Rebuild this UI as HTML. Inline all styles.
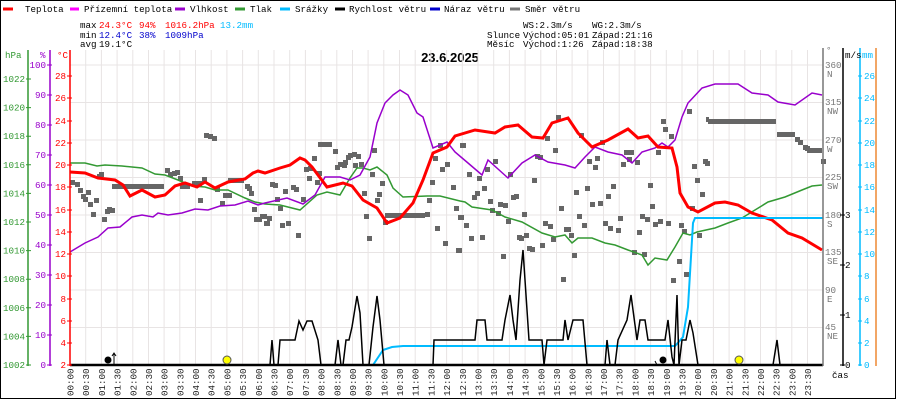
<!DOCTYPE html>
<html><head><meta charset="utf-8"><style>
html,body{margin:0;padding:0;background:#fff}
svg{display:block}
text{font-family:"Liberation Mono","DejaVu Sans Mono",monospace;font-size:9.2px}
</style></head><body>
<svg width="900" height="400" viewBox="0 0 900 400" xmlns="http://www.w3.org/2000/svg">
<rect x="0.5" y="0.5" width="895" height="398" fill="#fff" stroke="#000"/>
<!-- legend -->
<g stroke-width="3">
<line x1="3" y1="9" x2="13" y2="9" stroke="#f00"/><line x1="70" y1="9" x2="79" y2="9" stroke="#f0f"/>
<line x1="175" y1="9" x2="185" y2="9" stroke="#90c"/><line x1="235" y1="9" x2="245" y2="9" stroke="#393"/>
<line x1="280" y1="9" x2="290" y2="9" stroke="#0bf"/><line x1="335" y1="9" x2="345" y2="9" stroke="#000"/>
<line x1="430" y1="9" x2="440" y2="9" stroke="#00c"/><line x1="510" y1="9" x2="520" y2="9" stroke="#777"/>
</g>
<g fill="#000">
<text x="25" y="12">Teplota</text><text x="84" y="12">Přízemní teplota</text><text x="190" y="12">Vlhkost</text>
<text x="250" y="12">Tlak</text><text x="295" y="12">Srážky</text><text x="349" y="12">Rychlost větru</text>
<text x="444" y="12">Náraz větru</text><text x="525" y="12">Směr větru</text>
<text x="80" y="28">max</text><text x="80" y="38">min</text><text x="80" y="47">avg</text>
<text x="99" y="47">19.1°C</text>
<text x="523" y="28">WS:2.3m/s</text><text x="592" y="28">WG:2.3m/s</text>
<text x="487" y="38">Slunce</text><text x="523" y="38">Východ:05:01</text><text x="592" y="38">Západ:21:16</text>
<text x="487" y="47">Měsíc</text><text x="523" y="47">Východ:1:26</text><text x="592" y="47">Západ:18:38</text>
</g>
<text x="99" y="28" fill="#f00">24.3°C</text><text x="139" y="28" fill="#f00">94%</text><text x="165" y="28" fill="#f00">1016.2hPa</text><text x="220" y="28" fill="#0bf">13.2mm</text>
<text x="99" y="38" fill="#00c">12.4°C</text><text x="139" y="38" fill="#00c">38%</text><text x="165" y="38" fill="#00c">1009hPa</text>
<text x="450" y="62" text-anchor="middle" style="font-family:'Liberation Sans',sans-serif;font-size:13px;font-weight:bold">23.6.2025</text>
<g stroke="#e8e4e4">
<line x1="70" y1="65" x2="823" y2="65"/><line x1="70" y1="102.5" x2="823" y2="102.5"/><line x1="70" y1="140" x2="823" y2="140"/>
<line x1="70" y1="177.5" x2="823" y2="177.5"/><line x1="70" y1="215" x2="823" y2="215"/><line x1="70" y1="252.5" x2="823" y2="252.5"/>
<line x1="70" y1="290" x2="823" y2="290"/><line x1="70" y1="327.5" x2="823" y2="327.5"/>
</g>
<g stroke="#e8e4e4">
<line x1="85.7" y1="50" x2="85.7" y2="365"/><line x1="101.4" y1="50" x2="101.4" y2="365"/><line x1="117.1" y1="50" x2="117.1" y2="365"/><line x1="132.8" y1="50" x2="132.8" y2="365"/><line x1="148.5" y1="50" x2="148.5" y2="365"/><line x1="164.1" y1="50" x2="164.1" y2="365"/><line x1="179.8" y1="50" x2="179.8" y2="365"/><line x1="195.5" y1="50" x2="195.5" y2="365"/><line x1="211.2" y1="50" x2="211.2" y2="365"/><line x1="226.9" y1="50" x2="226.9" y2="365"/><line x1="242.6" y1="50" x2="242.6" y2="365"/><line x1="258.3" y1="50" x2="258.3" y2="365"/><line x1="274" y1="50" x2="274" y2="365"/><line x1="289.7" y1="50" x2="289.7" y2="365"/><line x1="305.4" y1="50" x2="305.4" y2="365"/><line x1="321.1" y1="50" x2="321.1" y2="365"/><line x1="336.8" y1="50" x2="336.8" y2="365"/><line x1="352.5" y1="50" x2="352.5" y2="365"/><line x1="368.1" y1="50" x2="368.1" y2="365"/><line x1="383.8" y1="50" x2="383.8" y2="365"/><line x1="399.5" y1="50" x2="399.5" y2="365"/><line x1="415.2" y1="50" x2="415.2" y2="365"/><line x1="430.9" y1="50" x2="430.9" y2="365"/><line x1="446.6" y1="50" x2="446.6" y2="365"/><line x1="462.3" y1="50" x2="462.3" y2="365"/><line x1="478" y1="50" x2="478" y2="365"/><line x1="493.7" y1="50" x2="493.7" y2="365"/><line x1="509.4" y1="50" x2="509.4" y2="365"/><line x1="525.1" y1="50" x2="525.1" y2="365"/><line x1="540.8" y1="50" x2="540.8" y2="365"/><line x1="556.5" y1="50" x2="556.5" y2="365"/><line x1="572.1" y1="50" x2="572.1" y2="365"/><line x1="587.8" y1="50" x2="587.8" y2="365"/><line x1="603.5" y1="50" x2="603.5" y2="365"/><line x1="619.2" y1="50" x2="619.2" y2="365"/><line x1="634.9" y1="50" x2="634.9" y2="365"/><line x1="650.6" y1="50" x2="650.6" y2="365"/><line x1="666.3" y1="50" x2="666.3" y2="365"/><line x1="682" y1="50" x2="682" y2="365"/><line x1="697.7" y1="50" x2="697.7" y2="365"/><line x1="713.4" y1="50" x2="713.4" y2="365"/><line x1="729.1" y1="50" x2="729.1" y2="365"/><line x1="744.8" y1="50" x2="744.8" y2="365"/><line x1="760.5" y1="50" x2="760.5" y2="365"/><line x1="776.1" y1="50" x2="776.1" y2="365"/><line x1="791.8" y1="50" x2="791.8" y2="365"/><line x1="807.5" y1="50" x2="807.5" y2="365"/>
</g>
<g fill="#666">
<path d="M70,180h5v5h-5zM75,182h5v5h-5zM78,188h5v5h-5zM81,194h5v5h-5zM83,197h5v5h-5zM86,190h5v5h-5zM88,202h5v5h-5zM91,212h5v5h-5zM94,198h5v5h-5zM97,174h5v5h-5zM99,172h5v5h-5zM102,217h5v5h-5zM105,209h5v5h-5zM107,207h5v5h-5zM110,208h5v5h-5zM165,168h5v5h-5zM168,172h5v5h-5zM172,171h5v5h-5zM175,170h5v5h-5zM178,176h5v5h-5zM192,181h5v5h-5zM197,181h5v5h-5zM198,198h5v5h-5zM202,177h5v5h-5zM204,133h5v5h-5zM208,134h5v5h-5zM212,136h5v5h-5zM215,187h5v5h-5zM220,201h5v5h-5zM223,193h5v5h-5zM227,193h5v5h-5zM245,184h5v5h-5zM247,186h5v5h-5zM249,191h5v5h-5zM252,207h5v5h-5zM254,217h5v5h-5zM257,217h5v5h-5zM262,214h5v5h-5zM264,221h5v5h-5z"/>
<rect x="112" y="184" width="52" height="5"/><rect x="180" y="184" width="10" height="5"/><rect x="228" y="178" width="16" height="5"/>
<path d="M260,214h5v5h-5zM267,216h5v5h-5zM265,221h5v5h-5zM270,182h5v5h-5zM273,183h5v5h-5zM275,197h5v5h-5zM278,206h5v5h-5zM280,223h5v5h-5zM283,189h5v5h-5zM286,221h5v5h-5zM291,185h5v5h-5zM294,187h5v5h-5zM296,233h5v5h-5zM301,197h5v5h-5zM304,167h5v5h-5zM307,176h5v5h-5zM308,166h5v5h-5zM312,156h5v5h-5zM315,180h5v5h-5zM317,171h5v5h-5zM333,149h5v5h-5zM335,165h5v5h-5zM338,162h5v5h-5zM342,163h5v5h-5zM343,160h5v5h-5zM346,155h5v5h-5zM348,153h5v5h-5zM352,152h5v5h-5zM353,163h5v5h-5zM356,154h5v5h-5zM359,162h5v5h-5zM362,191h5v5h-5zM364,214h5v5h-5zM367,236h5v5h-5zM370,172h5v5h-5zM372,148h5v5h-5zM375,198h5v5h-5zM377,192h5v5h-5zM380,181h5v5h-5zM383,220h5v5h-5zM425,212h5v5h-5zM427,198h5v5h-5zM430,180h5v5h-5zM433,156h5v5h-5zM435,226h5v5h-5zM438,143h5v5h-5zM440,167h5v5h-5zM443,241h5v5h-5zM445,162h5v5h-5zM451,185h5v5h-5zM454,206h5v5h-5zM456,248h5v5h-5zM458,215h5v5h-5zM460,143h5v5h-5z"/>
<rect x="318" y="142" width="14" height="5"/><rect x="385" y="213" width="40" height="5"/>
<path d="M461,143h5v5h-5zM457,248h5v5h-5zM459,215h5v5h-5zM464,223h5v5h-5zM467,172h5v5h-5zM469,236h5v5h-5zM472,195h5v5h-5zM475,191h5v5h-5zM477,176h5v5h-5zM480,235h5v5h-5zM482,186h5v5h-5zM485,167h5v5h-5zM488,199h5v5h-5zM490,208h5v5h-5zM493,159h5v5h-5zM496,211h5v5h-5zM498,202h5v5h-5zM501,254h5v5h-5zM503,203h5v5h-5zM506,219h5v5h-5zM508,172h5v5h-5zM511,195h5v5h-5zM514,194h5v5h-5zM517,235h5v5h-5zM519,236h5v5h-5zM522,212h5v5h-5zM524,233h5v5h-5zM527,246h5v5h-5zM530,247h5v5h-5zM532,178h5v5h-5zM535,154h5v5h-5zM538,155h5v5h-5zM540,243h5v5h-5zM543,221h5v5h-5zM545,136h5v5h-5zM548,224h5v5h-5zM551,237h5v5h-5zM553,148h5v5h-5zM556,115h5v5h-5zM559,206h5v5h-5zM561,277h5v5h-5zM564,227h5v5h-5zM566,227h5v5h-5zM569,233h5v5h-5zM572,253h5v5h-5zM574,190h5v5h-5zM577,214h5v5h-5zM579,133h5v5h-5zM582,223h5v5h-5zM585,186h5v5h-5zM587,159h5v5h-5zM590,202h5v5h-5zM593,165h5v5h-5zM595,156h5v5h-5zM598,201h5v5h-5zM600,140h5v5h-5zM603,221h5v5h-5zM606,194h5v5h-5zM608,226h5v5h-5zM611,184h5v5h-5zM616,228h5v5h-5zM618,216h5v5h-5zM621,162h5v5h-5zM624,150h5v5h-5zM627,157h5v5h-5zM629,150h5v5h-5zM632,250h5v5h-5zM635,160h5v5h-5zM637,230h5v5h-5zM640,214h5v5h-5zM642,252h5v5h-5zM645,217h5v5h-5zM648,183h5v5h-5zM650,204h5v5h-5zM653,222h5v5h-5z"/>
<path d="M661,119h5v5h-5zM663,127h5v5h-5zM669,134h5v5h-5zM656,150h5v5h-5zM658,219h5v5h-5zM666,221h5v5h-5zM671,278h5v5h-5zM677,259h5v5h-5zM679,223h5v5h-5zM682,229h5v5h-5zM684,272h5v5h-5zM687,109h5v5h-5zM690,206h5v5h-5zM692,164h5v5h-5zM695,178h5v5h-5zM697,233h5v5h-5zM700,192h5v5h-5zM703,159h5v5h-5zM705,161h5v5h-5zM795,137h5v5h-5zM798,140h5v5h-5zM803,145h5v5h-5zM805,146h5v5h-5zM821,159h5v5h-5z"/>
<rect x="706" y="117" width="3" height="5"/><rect x="708" y="119" width="68" height="5"/><rect x="777" y="132" width="18" height="5"/><rect x="807" y="148" width="15" height="5"/>
</g>
<polyline fill="none" stroke="#393" stroke-width="1.5" points="70,163 85,163 97,166 105,165 122,166 142,168 155,174 165,175 178,180 192,186 205,187 215,190 228,190 245,198 255,202 265,204 280,205 300,210 317,195 327,192 340,195 350,178 357,168 363,168 370,170 377,167 387,175 393,188 403,197 427,196 440,196 460,201 465,202 472,207 492,210 505,217 522,222 542,233 555,237 565,235 572,243 578,238 592,238 605,243 615,245 628,250 642,255 648,265 655,258 667,260 675,247 683,233 690,235 697,232 715,228 728,223 742,218 755,210 768,202 785,197 802,190 812,186 822,185"/>
<polyline fill="none" stroke="#90c" stroke-width="1.5" points="70,252 85,243 98,237 108,228 120,227 132,217 142,215 153,217 158,213 168,215 182,213 195,209 208,210 220,206 235,205 248,201 258,205 265,203 287,198 303,204 315,195 325,177 340,177 350,180 360,175 370,157 377,123 385,103 393,95 400,90 408,95 417,113 423,117 433,148 447,142 455,152 468,163 482,175 488,160 508,178 522,163 535,155 548,162 565,165 575,168 585,157 595,147 608,152 622,155 632,163 642,152 655,148 662,143 668,147 675,140 682,117 688,103 702,88 715,84 738,84 752,93 768,95 778,102 795,105 812,93 822,95"/>
<polyline fill="none" stroke="#f00" stroke-width="3" points="70,172 85,173 98,178 115,180 123,185 130,196 142,190 155,197 165,195 175,186 185,183 197,187 205,182 215,188 228,182 245,179 253,173 258,171 265,173 280,168 290,165 300,158 305,160 312,167 327,187 343,183 352,186 363,200 377,208 387,223 400,218 413,203 423,180 433,153 447,147 455,136 475,130 495,133 505,127 518,125 532,137 543,138 552,123 568,118 578,133 592,147 608,140 628,129 638,138 648,136 658,147 672,148 677,167 680,193 688,207 698,212 715,203 725,202 738,205 752,213 772,220 788,233 802,238 822,250"/>
<polyline fill="none" stroke="#0bf" stroke-width="2" points="274,365 373,365 383,350 392,347 403,346 675,346 683,337 688,307 693,223 695,218 823,218"/>
<polyline fill="none" stroke="#000" stroke-width="1.5" points="70,365 270,365 272,340 274,365 278,365 280,340 295,340 299,321 303,330 307,321 312,321 318,340 321,365 335,365 338,340 341,365 343,365 346,340 349,340 352,327 357,296 360,313 363,365 369,365 373,327 377,296 380,320 384,365 433,365 434,340 475,340 477,320 485,320 487,340 502,340 505,320 510,295 513,320 516,340 520,280 523,250 525,280 529,340 542,340 544,365 547,340 563,340 565,320 568,340 573,320 583,320 587,365 605,365 607,340 610,365 615,365 618,340 627,320 631,295 637,340 640,320 645,320 648,340 665,340 668,320 672,357 674,365 677,295 679,365 682,340 686,340 690,320 693,333 698,365 773,365 777,340 780,365 823,365"/>
<line x1="70" y1="365" x2="823" y2="365" stroke="#000" stroke-width="2.5"/>
<circle cx="108" cy="360" r="3.5" fill="#000"/><path d="M114,365V353M112,356l2,-3 2,3" stroke="#000" fill="none"/>
<circle cx="227" cy="360" r="4" fill="#ff0" stroke="#555"/>
<circle cx="663" cy="360" r="3.5" fill="#000"/><path d="M657,365l-2,-4" stroke="#000"/>
<circle cx="739" cy="360" r="4" fill="#ff0" stroke="#555"/>
<g stroke-width="1.5"><line x1="28" y1="50" x2="28" y2="366" stroke="#393"/><line x1="50" y1="50" x2="50" y2="366" stroke="#90c"/><line x1="70" y1="50" x2="70" y2="366" stroke="#f00"/></g>
<text x="5" y="58" fill="#393">hPa</text><text x="40" y="58" fill="#90c">%</text><text x="57" y="58" fill="#f00">°C</text>
<g fill="#393" text-anchor="end">
<text x="25" y="368">1002</text><text x="25" y="339.4">1004</text><text x="25" y="310.8">1006</text><text x="25" y="282.2">1008</text><text x="25" y="253.6">1010</text><text x="25" y="225">1012</text><text x="25" y="196.4">1014</text><text x="25" y="167.8">1016</text><text x="25" y="139.2">1018</text><text x="25" y="110.6">1020</text><text x="25" y="82">1022</text>
</g>
<g stroke="#393"><path d="M26,365h5M26,336.4h5M26,307.8h5M26,279.2h5M26,250.6h5M26,222h5M26,193.4h5M26,164.8h5M26,136.2h5M26,107.6h5M26,79h5"/></g>
<g fill="#90c" text-anchor="end">
<text x="46" y="368">0</text><text x="46" y="338">10</text><text x="46" y="308">20</text><text x="46" y="278">30</text><text x="46" y="248">40</text><text x="46" y="218">50</text><text x="46" y="188">60</text><text x="46" y="158">70</text><text x="46" y="128">80</text><text x="46" y="98">90</text><text x="46" y="68">100</text>
</g>
<g stroke="#90c"><path d="M47,365h5M47,335h5M47,305h5M47,275h5M47,245h5M47,215h5M47,185h5M47,155h5M47,125h5M47,95h5M47,65h5"/></g>
<g fill="#f00" text-anchor="end">
<text x="66" y="368">2</text><text x="66" y="346">4</text><text x="66" y="324">6</text><text x="66" y="302">8</text><text x="66" y="279">10</text><text x="66" y="257">12</text><text x="66" y="235">14</text><text x="66" y="213">16</text><text x="66" y="190">18</text><text x="66" y="168">20</text><text x="66" y="146">22</text><text x="66" y="124">24</text><text x="66" y="101">26</text><text x="66" y="79">28</text>
</g>
<g stroke="#f00"><path d="M67,365h5M67,343h5M67,321h5M67,299h5M67,276h5M67,254h5M67,232h5M67,210h5M67,187h5M67,165h5M67,143h5M67,121h5M67,98h5M67,76h5"/></g>
<line x1="823" y1="48" x2="823" y2="366" stroke="#777" stroke-width="1.5"/>
<line x1="843" y1="48" x2="843" y2="366" stroke="#000" stroke-width="1.5"/>
<line x1="860" y1="48" x2="860" y2="366" stroke="#0bf" stroke-width="1.5"/>
<line x1="876" y1="48" x2="876" y2="366" stroke="#e83" stroke-width="1.5"/>
<text x="826" y="53" fill="#777">°</text><text x="845" y="58" fill="#000">m/s</text><text x="862" y="58" fill="#0bf">mm</text>
<g fill="#777">
<text x="825" y="68">360</text><text x="827" y="77">N</text><text x="825" y="105">315</text><text x="827" y="114">NW</text>
<text x="825" y="143">270</text><text x="827" y="152">W</text><text x="825" y="180">225</text><text x="827" y="189">SW</text>
<text x="825" y="218">180</text><text x="827" y="227">S</text><text x="825" y="255">135</text><text x="827" y="264">SE</text>
<text x="825" y="293">90</text><text x="827" y="302">E</text><text x="825" y="330">45</text><text x="827" y="339">NE</text>
</g>
<g fill="#000"><text x="845" y="218">3</text><text x="845" y="268">2</text><text x="845" y="318">1</text><text x="845" y="368">0</text></g>
<g stroke="#000"><path d="M840,215h5M840,265h5M840,315h5M840,365h5"/></g>
<g fill="#0bf">
<text x="864" y="368">0</text><text x="864" y="346">2</text><text x="864" y="324">4</text><text x="864" y="302">6</text><text x="864" y="279">8</text><text x="864" y="257">10</text><text x="864" y="235">12</text><text x="864" y="213">14</text><text x="864" y="190">16</text><text x="864" y="168">18</text><text x="864" y="146">20</text><text x="864" y="124">22</text><text x="864" y="101">24</text><text x="864" y="79">26</text>
</g>
<g stroke="#0bf"><path d="M858,365h4M858,343h4M858,321h4M858,299h4M858,276h4M858,254h4M858,232h4M858,210h4M858,187h4M858,165h4M858,143h4M858,121h4M858,98h4M858,76h4"/></g>
<text x="832" y="378" fill="#000">čas</text>
<g fill="#222" style="font-size:8.8px">
<text transform="translate(73.5,396) rotate(-90)">00:00</text><text transform="translate(89.2,396) rotate(-90)">00:30</text><text transform="translate(104.9,396) rotate(-90)">01:00</text><text transform="translate(120.6,396) rotate(-90)">01:30</text><text transform="translate(136.3,396) rotate(-90)">02:00</text><text transform="translate(152,396) rotate(-90)">02:30</text><text transform="translate(167.6,396) rotate(-90)">03:00</text><text transform="translate(183.3,396) rotate(-90)">03:30</text><text transform="translate(199,396) rotate(-90)">04:00</text><text transform="translate(214.7,396) rotate(-90)">04:30</text><text transform="translate(230.4,396) rotate(-90)">05:00</text><text transform="translate(246.1,396) rotate(-90)">05:30</text><text transform="translate(261.8,396) rotate(-90)">06:00</text><text transform="translate(277.5,396) rotate(-90)">06:30</text><text transform="translate(293.2,396) rotate(-90)">07:00</text><text transform="translate(308.9,396) rotate(-90)">07:30</text><text transform="translate(324.6,396) rotate(-90)">08:00</text><text transform="translate(340.3,396) rotate(-90)">08:30</text><text transform="translate(356,396) rotate(-90)">09:00</text><text transform="translate(371.6,396) rotate(-90)">09:30</text><text transform="translate(387.3,396) rotate(-90)">10:00</text><text transform="translate(403,396) rotate(-90)">10:30</text><text transform="translate(418.7,396) rotate(-90)">11:00</text><text transform="translate(434.4,396) rotate(-90)">11:30</text><text transform="translate(450.1,396) rotate(-90)">12:00</text><text transform="translate(465.8,396) rotate(-90)">12:30</text><text transform="translate(481.5,396) rotate(-90)">13:00</text><text transform="translate(497.2,396) rotate(-90)">13:30</text><text transform="translate(512.9,396) rotate(-90)">14:00</text><text transform="translate(528.6,396) rotate(-90)">14:30</text><text transform="translate(544.3,396) rotate(-90)">15:00</text><text transform="translate(560,396) rotate(-90)">15:30</text><text transform="translate(575.6,396) rotate(-90)">16:00</text><text transform="translate(591.3,396) rotate(-90)">16:30</text><text transform="translate(607,396) rotate(-90)">17:00</text><text transform="translate(622.7,396) rotate(-90)">17:30</text><text transform="translate(638.4,396) rotate(-90)">18:00</text><text transform="translate(654.1,396) rotate(-90)">18:30</text><text transform="translate(669.8,396) rotate(-90)">19:00</text><text transform="translate(685.5,396) rotate(-90)">19:30</text><text transform="translate(701.2,396) rotate(-90)">20:00</text><text transform="translate(716.9,396) rotate(-90)">20:30</text><text transform="translate(732.6,396) rotate(-90)">21:00</text><text transform="translate(748.3,396) rotate(-90)">21:30</text><text transform="translate(764,396) rotate(-90)">22:00</text><text transform="translate(779.6,396) rotate(-90)">22:30</text><text transform="translate(795.3,396) rotate(-90)">23:00</text><text transform="translate(811,396) rotate(-90)">23:30</text>
</g>
</svg>
</body></html>
